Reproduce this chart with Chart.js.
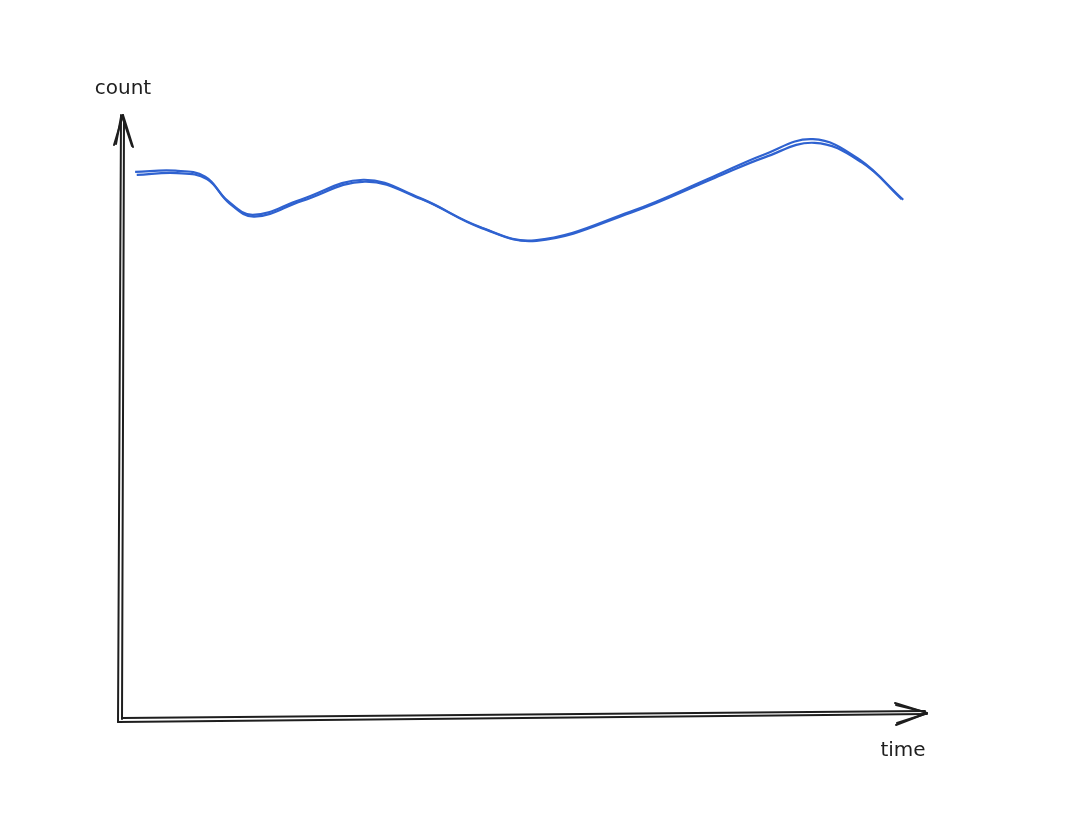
<!DOCTYPE html>
<html>
<head>
<meta charset="utf-8">
<script src="https://cdn.jsdelivr.net/npm/chart.js@4.4.0/dist/chart.umd.min.js"></script>
<style>
  html, body { margin: 0; padding: 0; background: #ffffff; }
  #wrap { width: 1080px; height: 817px; position: relative; }
</style>
</head>
<body>
<div id="wrap"><canvas id="c" width="1080" height="817"></canvas></div>
<script>
// Time positions (0..100 along the time axis)
const timeA = [2.0, 7.0, 10.7, 13.5, 16.6, 22.5, 30.3, 37.3, 44.8, 51.6, 63.4, 73.7, 79.9, 86.1, 91.9, 97.1];
// Count values of the two sketch strokes (0..100 along the count axis)
const countA = [90.6, 90.8, 89.8, 85.8, 83.5, 86.0, 89.3, 86.3, 81.5, 79.3, 84.0, 89.8, 93.4, 96.0, 92.6, 86.1];
const countB = [90.1, 90.4, 89.4, 85.4, 83.2, 85.8, 89.0, 86.1, 81.3, 79.2, 83.9, 89.6, 93.0, 95.4, 92.2, 86.0];
const axisTitles = { x: 'time', y: 'count' };

const sketchAxes = {
  id: 'sketchAxes',
  afterDraw(chart) {
    const ctx = chart.ctx;
    const a = chart.chartArea;
    ctx.save();
    ctx.strokeStyle = '#1e1e1e';
    ctx.lineCap = 'round';
    ctx.lineWidth = 2;
    const line = (x1, y1, x2, y2) => { ctx.beginPath(); ctx.moveTo(x1, y1); ctx.lineTo(x2, y2); ctx.stroke(); };
    // vertical axis (double stroke)
    line(a.left - 1, a.bottom + 2, a.left + 2, a.top);
    line(a.left + 3, a.bottom - 1, a.left + 5, a.top + 4);
    // vertical arrow head
    line(a.left + 4, a.top, a.left - 5, a.top + 30);
    line(a.left + 2, a.top + 2, a.left - 3, a.top + 29);
    line(a.left + 4, a.top, a.left + 14, a.top + 32);
    line(a.left + 3, a.top + 1, a.left + 13, a.top + 31);
    // horizontal axis (double stroke)
    line(a.left - 1, a.bottom + 2, a.right + 2, a.bottom - 6);
    line(a.left + 3, a.bottom - 2, a.right, a.bottom - 9);
    // horizontal arrow head
    line(a.right + 2, a.bottom - 7, a.right - 30, a.bottom - 17);
    line(a.right, a.bottom - 8, a.right - 29, a.bottom - 15);
    line(a.right + 2, a.bottom - 7, a.right - 29, a.bottom + 5);
    line(a.right, a.bottom - 6, a.right - 28, a.bottom + 3);
    // titles
    ctx.fillStyle = '#1e1e1e';
    ctx.font = '20px "DejaVu Sans", sans-serif';
    ctx.textBaseline = 'middle';
    ctx.textAlign = 'center';
    ctx.fillText(axisTitles.y, a.left + 4, a.top - 26);
    ctx.fillText(axisTitles.x, a.right - 22, a.bottom + 31);
    ctx.restore();
  }
};

const lineStyle = {
  borderColor: '#2f62d0',
  borderWidth: 2.2,
  pointRadius: 0,
  tension: 0.4,
  fill: false
};

new Chart(document.getElementById('c'), {
  type: 'line',
  data: {
    datasets: [
      Object.assign({ data: timeA.map((t, i) => ({ x: t, y: countA[i] })) }, lineStyle),
      Object.assign({ data: timeA.map((t, i) => ({ x: t + 0.2, y: countB[i] })) }, lineStyle)
    ]
  },
  options: {
    responsive: false,
    animation: false,
    devicePixelRatio: 1,
    layout: { padding: { left: 119, right: 155, top: 115, bottom: 97 } },
    plugins: { legend: { display: false }, tooltip: { enabled: false } },
    scales: {
      x: { type: 'linear', min: 0, max: 100, display: false },
      y: { type: 'linear', min: 0, max: 100, display: false }
    }
  },
  plugins: [sketchAxes]
});
</script>
</body>
</html>
